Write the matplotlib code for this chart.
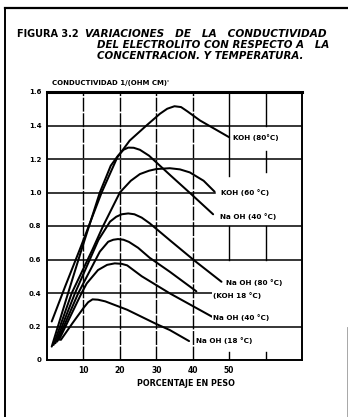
import matplotlib
matplotlib.use("Agg")
from matplotlib import pyplot as plt
from matplotlib.lines import Line2D

# curves: concentracion (% peso) vs conductividad 1/(ohm cm)
koh80_x = [1.3, 5, 9, 15, 19.3, 22.7, 27.3, 31, 33, 35, 36.8, 38.5, 42, 46, 50]
koh80_y = [0.23, 0.44, 0.66, 1.0, 1.21, 1.31, 1.40, 1.47, 1.50, 1.515, 1.51, 1.485, 1.43, 1.38, 1.33]

koh60_x = [1.8, 6.8, 12.5, 15.4, 20, 23, 25.5, 28, 30, 33.7, 36.5, 39.2, 43, 46]
koh60_y = [0.09, 0.40, 0.66, 0.80, 1.0, 1.07, 1.11, 1.13, 1.14, 1.145, 1.138, 1.12, 1.07, 1.005]

naoh40a_x = [1.3, 5.8, 9.5, 14.5, 17.5, 19.5, 21, 22.3, 23.8, 25.5, 28, 34, 39.6, 45.6]
naoh40a_y = [0.08, 0.40, 0.66, 1.0, 1.16, 1.22, 1.255, 1.268, 1.267, 1.255, 1.22, 1.10, 0.99, 0.87]

naoh80_x = [2.3, 7.7, 14.1, 17.3, 19, 20.5, 22.3, 24, 26, 28.2, 34, 40.5, 47.9]
naoh80_y = [0.10, 0.40, 0.716, 0.826, 0.855, 0.87, 0.875, 0.87, 0.85, 0.816, 0.71, 0.593, 0.467]

koh18_x = [2.8, 8.6, 14.5, 16.8, 18.2, 19.5, 21, 22.5, 25, 28.2, 33.7, 41]
koh18_y = [0.11, 0.40, 0.647, 0.706, 0.718, 0.722, 0.718, 0.705, 0.67, 0.61, 0.527, 0.41]

naoh40b_x = [3.3, 9.5, 10.9, 14, 16.5, 18.6, 20.5, 22, 26, 33.7, 45.6]
naoh40b_y = [0.12, 0.40, 0.457, 0.537, 0.568, 0.577, 0.574, 0.565, 0.50, 0.398, 0.255]

naoh18_x = [3.8, 7, 10, 11.3, 12.5, 14, 16, 22, 30, 33.7, 39]
naoh18_y = [0.12, 0.22, 0.31, 0.345, 0.362, 0.36, 0.35, 0.30, 0.215, 0.179, 0.113]

curves = [(koh80_x, koh80_y), (koh60_x, koh60_y), (naoh40a_x, naoh40a_y),
          (naoh80_x, naoh80_y), (koh18_x, koh18_y), (naoh40b_x, naoh40b_y),
          (naoh18_x, naoh18_y)]

labels = ["KOH (80°C)", "KOH (60 °C)", "Na OH (40 °C)", "Na OH (80 °C)",
          "(KOH 18 °C)", "Na OH (40 °C)", "Na OH (18 °C)"]
label_x = [51, 47.9, 47.4, 49.2, 45.6, 45.5, 41]
label_y = [1.327, 1.0, 0.855, 0.46, 0.385, 0.253, 0.119]

yticks = [0, 0.2, 0.4, 0.6, 0.8, 1.0, 1.2, 1.4, 1.6]
ytick_labels = ["0", "0.2", "0.4", "0.6", "0.8", "1.0", "1.2", "1.4", "1.6"]
xticks = [10, 20, 30, 40, 50]
xtick_labels = ["10", "20", "30", "40", "50"]

W, H = 348, 417
fig = plt.figure(figsize=(W / 100, H / 100), dpi=100)
fig.patch.set_facecolor("white")

def fx(px):
    return px / W

def fy(py):
    return 1 - py / H

ax = fig.add_axes([fx(47), fy(360), fx(302) - fx(47), fy(92) - fy(360)])
ax.set_xlim(0, 70)
ax.set_ylim(0, 1.6)

# grid (hand drawn on the original, some pieces missing)
for g in [0.2, 0.6, 0.8, 1.2, 1.4]:
    ax.plot([0, 70], [g, g], color="black", lw=1.1, zorder=1)
for g in [0.4, 1.0]:
    ax.plot([0, 46], [g, g], color="black", lw=1.1, zorder=1)
for g in [10, 20, 30, 40]:
    ax.plot([g, g], [0, 1.6], color="black", lw=1.0, ls=(0, (10, 1.2)), zorder=1)
for y0, y1 in [(0, 0.05), (0.6, 0.8), (1.1, 1.6)]:
    ax.plot([50, 50], [y0, y1], color="black", lw=1.0, zorder=1)
for y0, y1 in [(0, 0.05), (0.6, 0.8), (1.12, 1.25), (1.4, 1.6)]:
    ax.plot([60, 60], [y0, y1], color="black", lw=1.0, zorder=1)

for cx, cy in curves:
    ax.plot(cx, cy, color="black", lw=1.45, solid_capstyle="round",
            solid_joinstyle="round", zorder=3)

for t, lx, ly in zip(labels, label_x, label_y):
    ax.text(lx, ly, t, fontsize=5.2, fontweight="bold", ha="left", va="center",
            zorder=4, bbox=dict(facecolor="white", edgecolor="none", pad=0.8))

for s in ["left", "bottom", "right"]:
    ax.spines[s].set_linewidth(1.4)
ax.spines["top"].set_linewidth(2.2)

ax.set_xticks(xticks)
ax.set_xticklabels(xtick_labels, fontsize=5.5, fontweight="bold")
ax.set_yticks(yticks)
ax.set_yticklabels(ytick_labels, fontsize=5, fontweight="bold")
ax.tick_params(length=0, pad=4)

# titles
fig.text(fx(17), fy(34), "FIGURA 3.2", fontsize=7.0, fontweight="heavy",
         ha="left", va="center")
fig.text(fx(85), fy(34), "VARIACIONES   DE   LA   CONDUCTIVIDAD", fontsize=7.6,
         fontweight="bold", style="italic", ha="left", va="center")
fig.text(fx(97), fy(45), "DEL ELECTROLITO CON RESPECTO A   LA", fontsize=7.4,
         fontweight="bold", style="italic", ha="left", va="center")
fig.text(fx(97), fy(56), "CONCENTRACION. Y TEMPERATURA.", fontsize=7.4,
         fontweight="bold", style="italic", ha="left", va="center")
fig.text(fx(52), fy(83), "CONDUCTIVIDAD 1/(OHM CM)'", fontsize=5.0,
         fontweight="heavy", ha="left", va="center")
fig.text(fx(137), fy(384), "PORCENTAJE EN PESO", fontsize=5.8,
         fontweight="heavy", ha="left", va="center")

# page frame of the scan
fig.add_artist(Line2D([fx(5), fx(347)], [fy(8), fy(8)], color="black", lw=1.6))
fig.add_artist(Line2D([fx(5), fx(5)], [fy(8), fy(417)], color="black", lw=1.4))
fig.add_artist(Line2D([fx(347), fx(347)], [fy(327), fy(417)], color="#999999", lw=0.6))

fig.savefig("out.png", dpi=100)
